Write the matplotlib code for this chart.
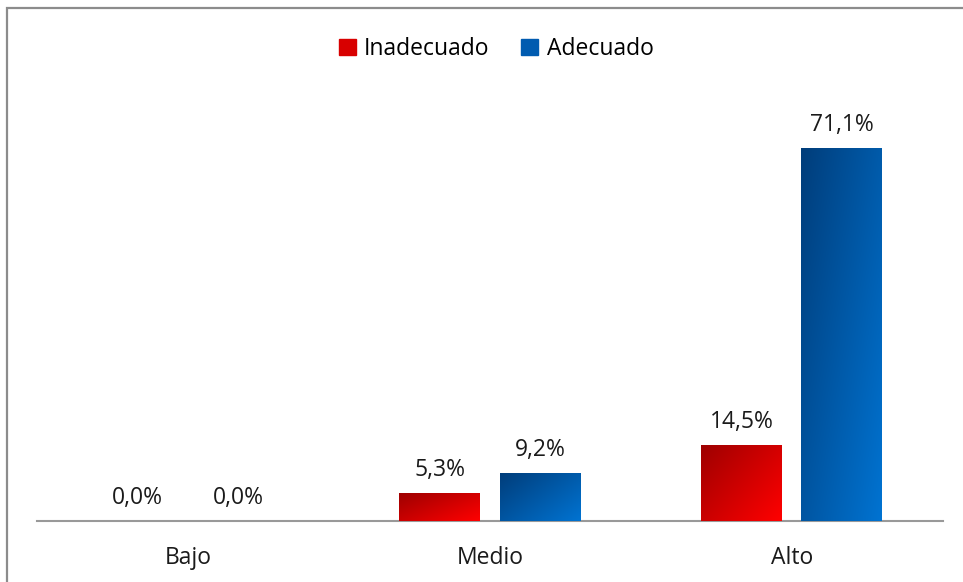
import matplotlib.pyplot as plt
import numpy as np
from matplotlib.patches import Rectangle

# dados do grafico
categorias = ["Bajo", "Medio", "Alto"]
inadecuado = [0.0, 5.3, 14.5]
adecuado = [0.0, 9.2, 71.1]
series = ["Inadecuado", "Adecuado"]

plt.rcParams['font.family'] = ['Open Sans', 'DejaVu Sans']

fig = plt.figure(figsize=(9.63, 5.82), dpi=100)
ax = fig.add_axes([0.0384, 0.1048, 0.9406, 0.7212])

x = np.arange(len(categorias))
largura = 0.268
desloc = 0.166

# cores do gradiente (escuro -> claro)
verm = [(0.62, 0.0, 0.0), (1.0, 0.0, 0.0)]
azul = [(0.0, 0.24, 0.48), (0.0, 0.45, 0.82)]


def gradiente(barras, cores):
    for b in barras:
        h = b.get_height()
        if h <= 0:
            continue
        x0, y0 = b.get_x(), b.get_y()
        w = b.get_width()
        u = np.linspace(0, 1, 60)
        v = np.linspace(0, 1, 60)
        U, V = np.meshgrid(u, v)
        # topo esquerdo escuro, baixo direito claro (linha 0 = topo)
        t = np.clip(0.55 * U + 0.45 * V, 0, 1)
        c0 = np.array(cores[0])
        c1 = np.array(cores[1])
        img = c0[None, None, :] * (1 - t[..., None]) + c1[None, None, :] * t[..., None]
        im = ax.imshow(img, extent=[x0, x0 + w, y0, y0 + h], origin='upper',
                       aspect='auto', zorder=3, interpolation='bilinear')
        im.set_clip_path(b)


b1 = ax.bar(x - desloc, inadecuado, largura, color=verm[1], label=series[0], zorder=2)
b2 = ax.bar(x + desloc, adecuado, largura, color=azul[1], label=series[1], zorder=2)
gradiente(b1, verm)
gradiente(b2, azul)

# rotulos dos valores
for barras, vals in [(b1, inadecuado), (b2, adecuado)]:
    for b, v in zip(barras, vals):
        ax.annotate(("%.1f%%" % v).replace(".", ","),
                    (b.get_x() + b.get_width() / 2, b.get_height()),
                    xytext=(0, 8), textcoords="offset points",
                    ha="center", va="bottom", fontsize=16.5, color="#1a1a1a")

ax.set_xlim(-0.5, 2.5)
ax.set_ylim(0, 80)
ax.set_xticks(x)
ax.set_xticklabels(categorias, fontsize=16.5, color="#1a1a1a")
ax.tick_params(axis='x', length=0, pad=18)
ax.set_yticks([])
for s in ["top", "right", "left"]:
    ax.spines[s].set_visible(False)
ax.spines["bottom"].set_color("#999999")
ax.spines["bottom"].set_linewidth(1.5)

# legenda
leg = fig.legend(handles=[b1, b2], labels=series, loc="center", bbox_to_anchor=(0.515, 0.916),
                 ncol=2, frameon=False, fontsize=16.5, handlelength=0.75, handleheight=0.75,
                 handletextpad=0.35, columnspacing=1.4)
leg.legend_handles[0].set_color("#d80000")
leg.legend_handles[1].set_color("#005bb0")

# borda
fig.patches.append(Rectangle((7 / 963, -0.05), 1.2, 1 - 7.5 / 582 + 0.05, transform=fig.transFigure,
                             fill=False, edgecolor="#8c8c8c", linewidth=1.6))

fig.savefig("out.png", dpi=100)
